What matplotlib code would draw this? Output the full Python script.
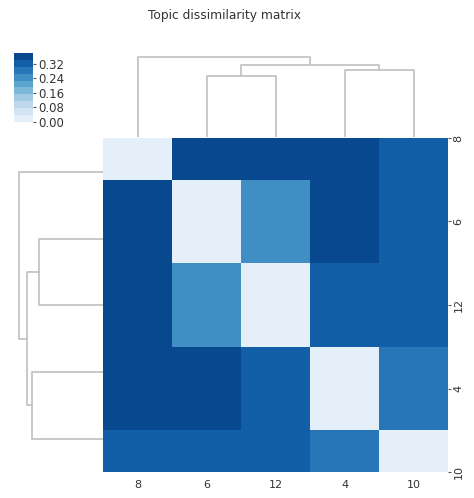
import matplotlib
matplotlib.use("Agg")
import matplotlib.pyplot as plt
from matplotlib.colors import ListedColormap, Normalize
import seaborn as sns
import numpy as np

# topic order after clustering
topics = ["8", "6", "12", "4", "10"]

# pairwise topic dissimilarity, same order as topics
dissim = np.array([
    [0.00, 0.36, 0.36, 0.38, 0.33],
    [0.36, 0.00, 0.25, 0.35, 0.32],
    [0.36, 0.25, 0.00, 0.33, 0.32],
    [0.38, 0.35, 0.33, 0.00, 0.29],
    [0.33, 0.32, 0.32, 0.29, 0.00],
])

# merges as (left node, right node, height); nodes 0-4 are leaves, 5+ are clusters
linkage = [
    (1, 2, 0.49),
    (3, 4, 0.54),
    (5, 6, 0.58),
    (0, 7, 0.64),
]

cbar_ticks = [0.00, 0.08, 0.16, 0.24, 0.32]

W, H = 474, 498
fig = plt.figure(figsize=(W / 100, H / 100), dpi=100)


def px(left, top, right, bottom):
    return [left / W, 1 - bottom / H, (right - left) / W, (bottom - top) / H]


def dendro_segments(links, n_leaves):
    pos = {i: 10 * i + 5 for i in range(n_leaves)}
    hgt = {i: 0.0 for i in range(n_leaves)}
    segs = []
    for k, (a, b, h) in enumerate(links):
        segs.append(([pos[a], pos[a], pos[b], pos[b]], [hgt[a], h, h, hgt[b]]))
        node = n_leaves + k
        pos[node] = (pos[a] + pos[b]) / 2
        hgt[node] = h
    return segs


cmap = ListedColormap(sns.color_palette("Blues", 10))
norm = Normalize(vmin=0, vmax=dissim.max())

ax_heat = fig.add_axes(px(103, 138, 448, 472))
ax_col = fig.add_axes(px(103, 53.5, 448, 137.5))
ax_row = fig.add_axes(px(14.8, 138.5, 103.3, 472))
ax_cbar = fig.add_axes(px(14, 53, 33, 122))

mesh = ax_heat.pcolormesh(dissim, cmap=cmap, norm=norm)
ax_heat.set_xlim(0, len(topics))
ax_heat.set_ylim(len(topics) - 0.5, 0.5)
for s in ax_heat.spines.values():
    s.set_visible(False)
ax_heat.set_xticks(np.arange(len(topics)) + 0.5)
ax_heat.set_xticklabels(topics, fontsize=8, color="#333333")
ax_heat.set_yticks(np.arange(len(topics)) + 0.5)
ax_heat.set_yticklabels(topics, fontsize=8, color="#333333", rotation=90, va="center")
ax_heat.yaxis.set_ticks_position("right")
ax_heat.tick_params(axis="x", length=0, pad=6)
ax_heat.tick_params(axis="y", length=2.5, width=0.8, pad=1.5, color="#555555")

segs = dendro_segments(linkage, len(topics))
top = max(h for _, _, h in linkage) * 1.05
for xs, ys in segs:
    ax_col.plot(xs, ys, color="#c4c4c4", lw=1.3)
    ax_row.plot(ys, xs, color="#c4c4c4", lw=1.3)
ax_col.set_xlim(0, 10 * len(topics))
ax_col.set_ylim(0, top)
ax_row.set_ylim(10 * len(topics), 0)
ax_row.set_xlim(top, 0)
ax_col.axis("off")
ax_row.axis("off")

cb = fig.colorbar(mesh, cax=ax_cbar, ticks=cbar_ticks)
cb.outline.set_visible(False)
cb.ax.set_yticklabels([f"{t:.2f}" for t in cbar_ticks])
cb.ax.tick_params(length=2.5, width=0.8, pad=1.5, labelsize=8.5,
                  labelcolor="#333333", color="#555555")

fig.text(224.5 / W, 1 - 15 / H, "Topic dissimilarity matrix",
         ha="center", va="center", fontsize=8.8, color="#333333")

fig.savefig("out.png", dpi=100)
